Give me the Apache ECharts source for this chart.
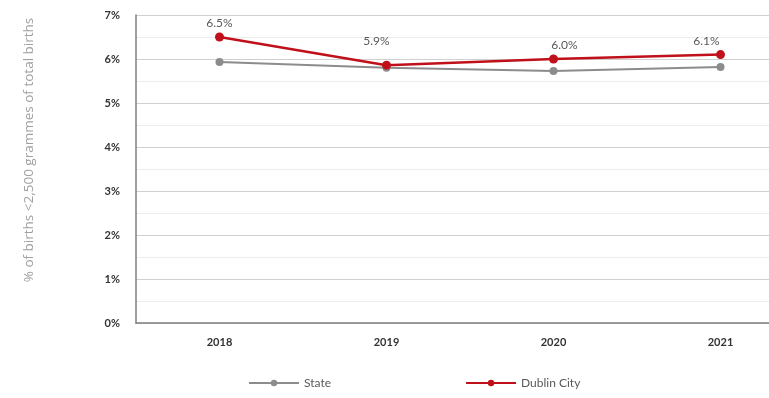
<!DOCTYPE html>
<html><head><meta charset="utf-8">
<script src="https://cdn.jsdelivr.net/npm/echarts@6/dist/echarts.min.js"></script>
<style>html,body{margin:0;padding:0;background:#fff}#c{width:769px;height:398px}</style>
</head><body><div id="c"></div>
<script>
const categories = ['2018', '2019', '2020', '2021'];
const stateValues = [5.93, 5.80, 5.73, 5.82];
const dublinValues = [6.5, 5.86, 6.0, 6.1];
const yTicks = [0, 1, 2, 3, 4, 5, 6, 7];
const labelOffsets = [[0, 0], [-10, -11], [11, 0], [-14, 0]];

const chart = echarts.init(document.getElementById('c'));
const font = 'Lato, "Open Sans", sans-serif';
chart.setOption({
  animation: false,
  textStyle: { fontFamily: font },
  grid: { left: 136, right: -35, top: 15, bottom: 75, containLabel: false, outerBoundsMode: 'none' },
  xAxis: {
    type: 'category', data: categories, boundaryGap: true,
    axisLine: { lineStyle: { color: '#7f7f7f', width: 1.5 } },
    axisTick: { show: false },
    axisLabel: { color: '#333', fontWeight: 'bold', fontSize: 11, margin: 14, fontFamily: font }
  },
  yAxis: {
    type: 'value', min: yTicks[0], max: yTicks[yTicks.length - 1], interval: 1,
    name: '% of births <2,500 grammes of total births',
    nameLocation: 'middle', nameGap: 100, nameRotate: 90,
    nameTextStyle: { color: '#a0a0a0', fontSize: 13.5, fontFamily: '"Open Sans", sans-serif', padding: [0, 0, 0, 38] },
    axisLine: { show: true, lineStyle: { color: '#7f7f7f', width: 1.5 } },
    axisTick: { show: false },
    axisLabel: { formatter: v => v + '%', color: '#333', fontWeight: 'bold', fontSize: 11, margin: 16, fontFamily: font },
    splitLine: { lineStyle: { color: '#d0d0d0', width: 1 } },
    minorTick: { show: false, splitNumber: 2 },
    minorSplitLine: { show: true, lineStyle: { color: '#ececec', width: 1 } }
  },
  legend: {
    bottom: 4, left: 243, itemGap: 134, itemWidth: 50, itemHeight: 8,
    textStyle: { color: '#595959', fontSize: 12, fontFamily: font },
    data: ['State', 'Dublin City']
  },
  series: [
    {
      name: 'State', type: 'line', data: stateValues,
      symbol: 'circle', symbolSize: 8,
      lineStyle: { color: '#8c8c8c', width: 2 },
      itemStyle: { color: '#8c8c8c' }
    },
    {
      name: 'Dublin City', type: 'line', data: dublinValues.map((v, i) => ({
        value: v, label: { offset: labelOffsets[i] }
      })),
      symbol: 'circle', symbolSize: 9,
      lineStyle: { color: '#c0101a', width: 2.5 },
      itemStyle: { color: '#c0101a' },
      label: {
        show: true, position: 'top', distance: 3,
        formatter: p => p.value.toFixed(1) + '%',
        color: '#595959', fontSize: 12, fontFamily: font
      }
    }
  ]
});
</script></body></html>
